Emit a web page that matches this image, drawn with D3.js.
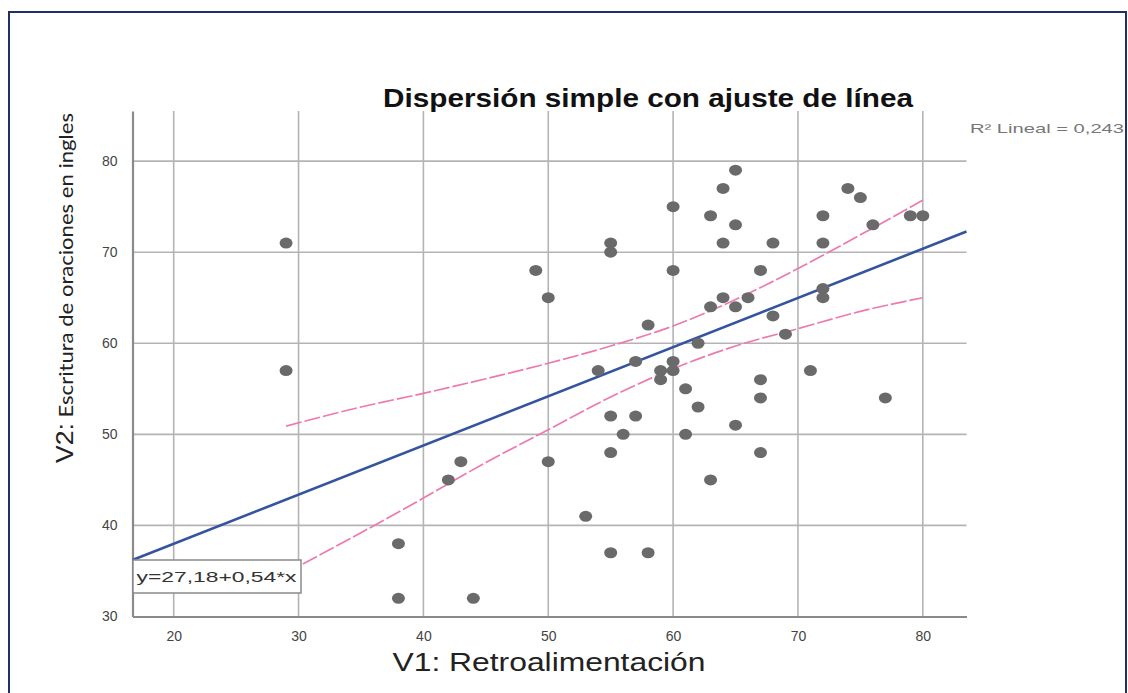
<!DOCTYPE html>
<html><head><meta charset="utf-8">
<script src="https://cdn.jsdelivr.net/npm/d3@7"></script>
<style>
html,body{margin:0;padding:0;background:#fff;}
svg{display:block;}
</style></head>
<body>
<script>
// ---- data ----
const v1 = [29,29,38,38,42,43,44,49,50,50,53,54,55,55,55,55,55,56,57,57,58,58,59,59,60,60,60,60,61,61,62,62,63,63,63,64,64,64,65,65,65,65,66,67,67,67,67,68,68,69,71,72,72,72,72,74,75,76,77,79,80];
const v2 = [71,57,38,32,45,47,32,68,65,47,41,57,71,70,52,48,37,50,58,52,62,37,57,56,75,68,58,57,55,50,60,53,74,64,45,77,71,65,79,73,64,51,65,68,56,54,48,71,63,61,57,74,71,66,65,77,76,73,54,74,74];
const fitIntercept = 27.18;
const fitSlope = 0.54;
const bandX     = [29, 35, 40, 45, 50, 55, 60, 65, 70, 75, 80];
const bandUpper = [50.9, 53.0, 54.5, 56.1, 57.8, 59.7, 61.9, 64.8, 68.2, 71.9, 75.7];
const bandLower = [34.8, 39.2, 43.0, 46.9, 50.5, 54.1, 57.2, 59.7, 61.6, 63.5, 65.0];
const xTicks = [20, 30, 40, 50, 60, 70, 80];
const yTicks = [30, 40, 50, 60, 70, 80];
const titleText = "Dispersión simple con ajuste de línea";
const xLabel = "V1: Retroalimentación";
const yLabelA = "V2:";
const yLabelB = " Escritura de oraciones  en ingles";
const r2Text = "R² Lineal = 0,243";
const eqText = "y=27,18+0,54*x";

const W = 1128, H = 693;
const svg = d3.select("body").append("svg").attr("width", W).attr("height", H);
const SANS = "'Liberation Sans', Arial, sans-serif";

// frame
svg.append("rect").attr("x", 9).attr("y", 12).attr("width", W - 11).attr("height", H + 10)
  .attr("fill", "none").attr("stroke", "#1f2f6b").attr("stroke-width", 2);

const x = d3.scaleLinear().domain([16.7, 83.5]).range([132.5, 966.5]);
const y = d3.scaleLinear().domain([30, 85.5]).range([616.5, 111]);

// gridlines
const g = svg.append("g");
g.selectAll("line.vg").data(xTicks).join("line")
  .attr("x1", d => x(d)).attr("x2", d => x(d))
  .attr("y1", y.range()[1]).attr("y2", y.range()[0])
  .attr("stroke", "#b4b4b4").attr("stroke-width", 1.6);
g.selectAll("line.hg").data(yTicks.slice(1)).join("line")
  .attr("x1", x.range()[0]).attr("x2", x.range()[1])
  .attr("y1", d => y(d)).attr("y2", d => y(d))
  .attr("stroke", "#b4b4b4").attr("stroke-width", 1.6);

// axes
const xAxis = d3.axisBottom(x).tickValues(xTicks).tickSize(0).tickPadding(15);
const yAxis = d3.axisLeft(y).tickValues(yTicks).tickSize(0).tickPadding(15);
const gx = svg.append("g").attr("transform", `translate(0,${y(30)})`).call(xAxis);
const gy = svg.append("g").attr("transform", `translate(${x.range()[0]},0)`).call(yAxis);
[gx, gy].forEach(a => {
  a.select(".domain").attr("stroke", "#8a8a8a").attr("stroke-width", 2.2);
  a.selectAll("text").attr("font-family", SANS).attr("font-size", 14).attr("fill", "#444");
});

// confidence bands
const bandLine = d3.line().x(d => x(d[0])).y(d => y(d[1])).curve(d3.curveMonotoneX);
[bandUpper, bandLower].forEach(arr => {
  svg.append("path").attr("d", bandLine(bandX.map((v, i) => [v, arr[i]])))
    .attr("fill", "none").attr("stroke", "#ee79b0").attr("stroke-width", 1.7).attr("stroke-dasharray", "16,3");
});

// fit line
const [xa, xb] = x.domain();
svg.append("line")
  .attr("x1", x(xa)).attr("y1", y(fitIntercept + fitSlope * xa))
  .attr("x2", x(xb)).attr("y2", y(fitIntercept + fitSlope * xb))
  .attr("stroke", "#3554a0").attr("stroke-width", 2.6);

// points
svg.append("g").selectAll("ellipse").data(v1.map((d, i) => [d, v2[i]])).join("ellipse")
  .attr("cx", d => x(d[0])).attr("cy", d => y(d[1]))
  .attr("rx", 6.5).attr("ry", 5.5).attr("fill", "#6a6a6a");

// equation box
const eq = svg.append("g").attr("transform", `translate(${x.range()[0]},560)`);
eq.append("rect").attr("x", 0.5).attr("y", 0).attr("width", 168).attr("height", 33)
  .attr("fill", "#fff").attr("stroke", "#8a8a8a").attr("stroke-width", 1.5);
eq.append("text").attr("x", 4).attr("y", 22).text(eqText)
  .attr("font-family", SANS).attr("font-size", 15).attr("fill", "#333")
  .attr("textLength", 160).attr("lengthAdjust", "spacingAndGlyphs");

// title
svg.append("text").attr("x", 648).attr("y", 107).attr("text-anchor", "middle").text(titleText)
  .attr("font-family", SANS).attr("font-weight", "bold")
  .attr("font-size", 26).attr("fill", "#111")
  .attr("textLength", 530).attr("lengthAdjust", "spacingAndGlyphs");

// R2
svg.append("text").attr("x", 970).attr("y", 133).text(r2Text)
  .attr("font-family", SANS).attr("font-size", 13).attr("fill", "#777")
  .attr("textLength", 154).attr("lengthAdjust", "spacingAndGlyphs");

// x label
svg.append("text").attr("x", 549).attr("y", 671).attr("text-anchor", "middle").text(xLabel)
  .attr("font-family", SANS).attr("font-size", 25).attr("fill", "#222")
  .attr("textLength", 313).attr("lengthAdjust", "spacingAndGlyphs");

// y label
const yl = svg.append("text").attr("transform", "translate(73,288) rotate(-90)").attr("text-anchor", "middle")
  .attr("fill", "#222").attr("textLength", 350).attr("lengthAdjust", "spacingAndGlyphs");
yl.append("tspan").text(yLabelA).attr("font-family", SANS).attr("font-size", 24);
yl.append("tspan").text(yLabelB).attr("font-family", "Lato, 'Open Sans', sans-serif").attr("font-size", 20);
</script>
</body></html>
